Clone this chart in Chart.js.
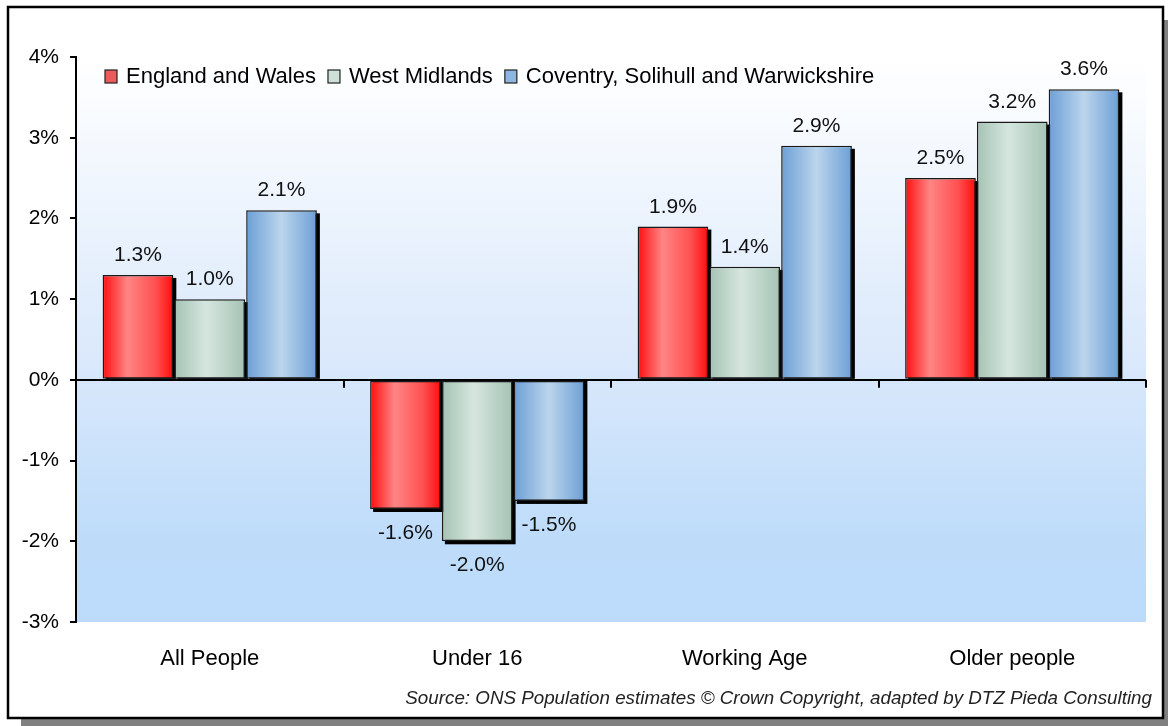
<!DOCTYPE html>
<html>
<head>
<meta charset="utf-8">
<script src="https://cdn.jsdelivr.net/npm/chart.js@4/dist/chart.umd.min.js"></script>
<style>
  html, body { margin: 0; padding: 0; background: #fff; }
  #wrap { width: 1168px; height: 726px; position: relative; }
</style>
</head>
<body>
<div id="wrap"><canvas id="popChart"></canvas></div>
<script>
// ── data ────────────────────────────────────────────────────────────────────
const categories = ['All People', 'Under 16', 'Working Age', 'Older people'];
const englandWales = [1.3, -1.6, 1.9, 2.5];
const westMidlands = [1.0, -2.0, 1.4, 3.2];
const coventrySW   = [2.1, -1.5, 2.9, 3.6];
const yTicks = [-3, -2, -1, 0, 1, 2, 3, 4];
const sourceNote = 'Source: ONS Population estimates \u00A9 Crown Copyright, adapted by DTZ Pieda Consulting';

const FONT = "Arial, 'Liberation Sans', sans-serif";
const CAT_PCT = 0.805;
const BAR_PCT = 0.985;

// horizontal "cylinder" shading for each bar, computed from the x scale
function barFill(stops, solid) {
  return ctx => {
    const chart = ctx.chart;
    const xs = chart.scales && chart.scales.x;
    if (!xs || !chart.chartArea || ctx.dataIndex === undefined) return solid;
    const n = chart.data.datasets.length;
    const cw = (xs.right - xs.left) / categories.length;
    const slot = cw * CAT_PCT / n;
    const c = xs.getPixelForValue(ctx.dataIndex) + (ctx.datasetIndex - (n - 1) / 2) * slot;
    const w = slot * BAR_PCT;
    const g = chart.ctx.createLinearGradient(c - w / 2, 0, c + w / 2, 0);
    stops.forEach(([p, col]) => g.addColorStop(p, col));
    return g;
  };
}

// plot background + outer frame
const framePlugin = {
  id: 'frame',
  beforeDraw(chart) {
    const { ctx, chartArea: a } = chart;
    ctx.save();
    ctx.fillStyle = '#fff';
    ctx.fillRect(0, 0, chart.width, chart.height);
    ctx.fillStyle = '#808080';
    ctx.fillRect(21, 20, chart.width - 21, chart.height - 20);
    ctx.fillStyle = '#fff';
    ctx.fillRect(8, 7, 1155, 711);
    ctx.lineWidth = 2.5;
    ctx.strokeStyle = '#000';
    ctx.strokeRect(8, 7, 1155, 711);

    const g = ctx.createLinearGradient(0, a.top, 0, a.bottom);
    g.addColorStop(0, '#ffffff');
    g.addColorStop(0.55, '#d9e8fb');
    g.addColorStop(0.85, '#bedcfa');
    g.addColorStop(1, '#bcdbfa');
    ctx.fillStyle = g;
    ctx.fillRect(a.left, a.top, a.right - a.left, a.bottom - a.top);
    ctx.restore();
  }
};

// drop shadows behind bars, ticks on the zero line, value labels, legend, source
const decoPlugin = {
  id: 'deco',
  beforeDatasetsDraw(chart) {
    const { ctx } = chart;
    ctx.save();
    ctx.fillStyle = '#000';
    chart.data.datasets.forEach((ds, di) => {
      chart.getDatasetMeta(di).data.forEach(bar => {
        const { x, y, base, width } = bar.getProps(['x', 'y', 'base', 'width'], true);
        const top = Math.min(y, base), bot = Math.max(y, base);
        if (y < base) ctx.fillRect(x - width / 2 + 3, top + 3, width, bot - top - 3);
        else ctx.fillRect(x - width / 2 + 3, top, width, bot - top + 3);
      });
    });
    ctx.restore();
  },
  afterDatasetsDraw(chart) {
    const { ctx, scales: { x: xs, y: ys } } = chart;
    ctx.save();
    // small ticks at category boundaries on the 0% line
    const zero = ys.getPixelForValue(0);
    const cw = (xs.right - xs.left) / categories.length;
    ctx.strokeStyle = '#000';
    ctx.lineWidth = 2;
    for (let i = 0; i <= categories.length; i++) {
      const px = Math.round(xs.left + i * cw);
      ctx.beginPath();
      ctx.moveTo(px, zero);
      ctx.lineTo(px, zero + 8);
      ctx.stroke();
    }
    // value labels
    ctx.font = '21px ' + FONT;
    ctx.fillStyle = '#111';
    ctx.textAlign = 'center';
    ctx.textBaseline = 'alphabetic';
    chart.data.datasets.forEach((ds, di) => {
      chart.getDatasetMeta(di).data.forEach((bar, i) => {
        const v = ds.data[i];
        const { x, y } = bar.getProps(['x', 'y'], true);
        ctx.fillText(v.toFixed(1) + '%', x, v >= 0 ? y - 14 : y + 30);
      });
    });
    ctx.restore();
  },
  afterDraw(chart) {
    const { ctx } = chart;
    ctx.save();
    // legend inside the plot
    ctx.font = '22px ' + FONT;
    ctx.textBaseline = 'alphabetic';
    ctx.textAlign = 'left';
    let lx = 105;
    chart.data.datasets.forEach(ds => {
      ctx.fillStyle = ds.legendColor;
      ctx.fillRect(lx, 70, 12, 13);
      ctx.strokeStyle = '#222';
      ctx.lineWidth = 1.2;
      ctx.strokeRect(lx, 70, 12, 13);
      ctx.fillStyle = '#000';
      ctx.fillText(ds.label, lx + 21, 83);
      lx += 21 + ctx.measureText(ds.label).width + 12;
    });
    // source note
    ctx.font = 'italic 18.8px ' + FONT;
    ctx.fillStyle = '#222';
    ctx.textAlign = 'right';
    ctx.fillText(sourceNote, 1152, 704);
    ctx.restore();
  }
};

new Chart(document.getElementById('popChart').getContext('2d'), {
  type: 'bar',
  data: {
    labels: categories,
    datasets: [
      {
        label: 'England and Wales',
        data: englandWales,
        legendColor: '#ee5a5a',
        backgroundColor: barFill([[0, '#ff0d0d'], [0.35, '#ff8585'], [0.75, '#ff5050'], [1, '#ff0d0d']], '#ff4040')
      },
      {
        label: 'West Midlands',
        data: westMidlands,
        legendColor: '#cfe0d8',
        backgroundColor: barFill([[0, '#a5c3b4'], [0.45, '#d6e6df'], [1, '#a5c3b4']], '#c0d8cc')
      },
      {
        label: 'Coventry, Solihull and Warwickshire',
        data: coventrySW,
        legendColor: '#8fb6e2',
        backgroundColor: barFill([[0, '#6c9fd6'], [0.5, '#bcd5ec'], [1, '#6c9fd6']], '#8fb6e2')
      }
    ].map(d => ({
      ...d,
      borderColor: '#1a1a1a',
      borderWidth: 1.5,
      borderSkipped: false,
      categoryPercentage: CAT_PCT,
      barPercentage: BAR_PCT
    }))
  },
  options: {
    responsive: true,
    maintainAspectRatio: false,
    animation: false,
    layout: { padding: { left: 0, top: 57, right: 22, bottom: 0 } },
    plugins: {
      legend: { display: false },
      tooltip: { enabled: false }
    },
    scales: {
      x: {
        grid: { display: false, drawTicks: false },
        border: { display: false },
        ticks: { color: '#000', font: { family: FONT, size: 22 }, padding: 24 },
        afterFit: s => { s.height = 104; }
      },
      y: {
        min: yTicks[0],
        max: yTicks[yTicks.length - 1],
        afterBuildTicks: s => { s.ticks = yTicks.map(v => ({ value: v })); },
        grid: {
          color: c => (c.tick && c.tick.value === 0 ? '#000' : 'rgba(0,0,0,0)'),
          lineWidth: 2,
          tickColor: '#000',
          tickWidth: 2,
          tickLength: 6
        },
        border: { display: true, color: '#000', width: 2 },
        ticks: {
          color: '#000',
          font: { family: FONT, size: 21 },
          padding: 11,
          callback: v => v + '%'
        },
        afterFit: s => { s.width = 76; }
      }
    }
  },
  plugins: [framePlugin, decoPlugin]
});
</script>
</body>
</html>
